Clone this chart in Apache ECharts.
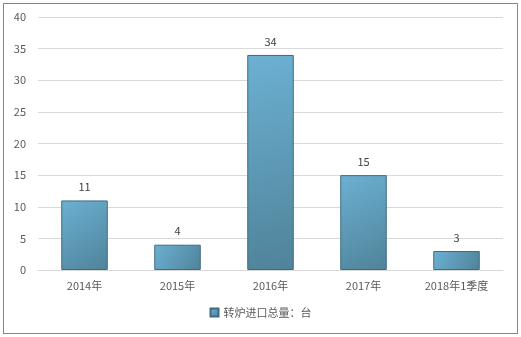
<!DOCTYPE html>
<html><head><meta charset="utf-8">
<script src="https://cdn.jsdelivr.net/npm/echarts@6/dist/echarts.min.js"></script>
<style>
html,body{margin:0;padding:0;background:#fff;}
#wrap{position:absolute;left:3px;top:3px;width:513px;height:329px;border:1px solid #868686;box-sizing:content-box;}
#c{width:513px;height:329px;}
</style></head><body>
<div id="wrap"><div id="c"></div></div>
<script>
const categories = ['2014年','2015年','2016年','2017年','2018年1季度'];
const values = [11, 4, 34, 15, 3];
const seriesName = '转炉进口总量：台';
const yMin = 0, yMax = 40, yInterval = 5;

const chart = echarts.init(document.getElementById('c'));
const font = '"Noto Sans CJK SC", "Microsoft YaHei", sans-serif';
chart.setOption({
  animation: false,
  textStyle: {fontFamily: font},
  grid: {left: 34, right: 14, top: 13, bottom: 63},
  legend: {
    bottom: 10, left: 'center',
    itemWidth: 8, itemHeight: 8, itemGap: 4,
    textStyle: {color: '#595959', fontSize: 11, fontFamily: font},
    data: [{name: seriesName, icon: 'rect'}]
  },
  xAxis: {
    type: 'category', data: categories,
    axisLine: {lineStyle: {color: '#d9d9d9'}},
    axisTick: {show: false},
    axisLabel: {color: '#595959', fontSize: 11, margin: 10, fontFamily: font}
  },
  yAxis: {
    type: 'value', min: yMin, max: yMax, interval: yInterval,
    axisLine: {show: false}, axisTick: {show: false},
    splitLine: {lineStyle: {color: '#d9d9d9'}},
    axisLabel: {color: '#595959', fontSize: 11, margin: 12, fontFamily: font}
  },
  series: [{
    name: seriesName, type: 'bar', data: values, barWidth: '50%',
    itemStyle: {
      color: new echarts.graphic.LinearGradient(0, 0, 1, 1, [
        {offset: 0, color: '#6cb0d2'},
        {offset: 1, color: '#4f8399'}
      ]),
      borderColor: '#3e6b82', borderWidth: 1
    },
    label: {show: true, position: 'top', color: '#404040', fontSize: 11, distance: 8, fontFamily: font}
  }]
});
</script></body></html>
